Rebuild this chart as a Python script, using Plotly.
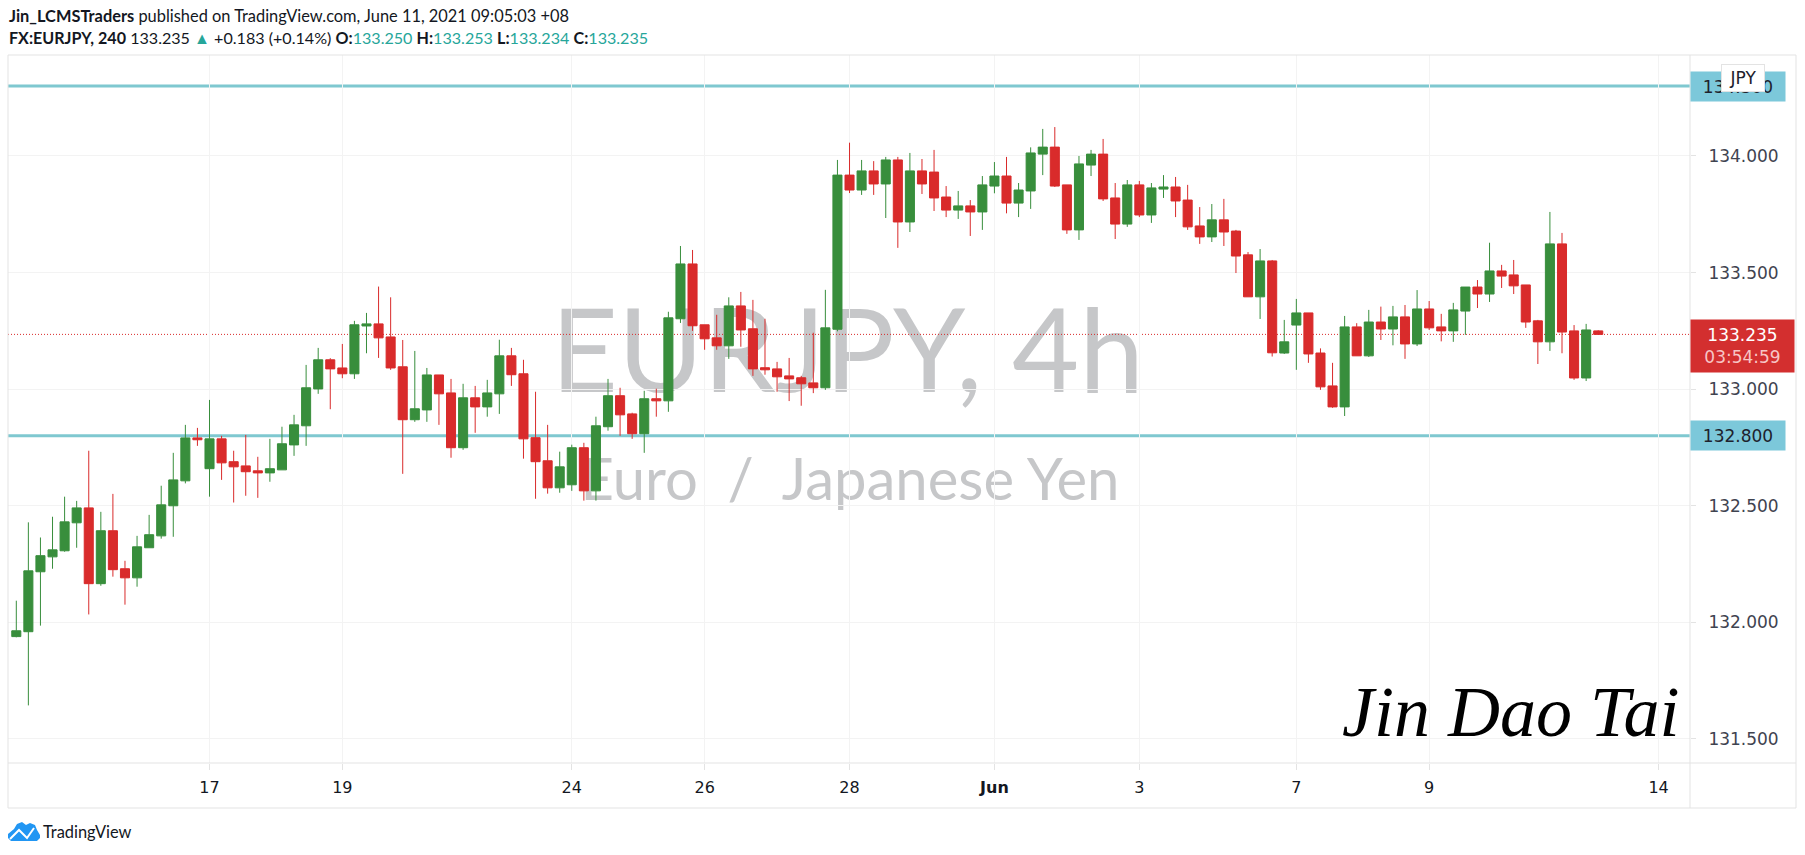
import plotly.graph_objects as go

opens = [131.939,131.960,132.217,132.281,132.307,132.427,132.491,132.166,132.393,132.230,132.191,132.320,132.371,132.500,132.607,132.791,132.659,132.787,132.689,132.671,132.650,132.641,132.654,132.761,132.843,133.001,133.126,133.091,133.066,133.271,133.280,133.224,133.096,132.869,132.911,133.061,132.984,
132.749,132.963,132.924,132.980,133.143,133.066,132.792,132.693,132.577,132.590,132.749,132.564,132.839,132.972,132.894,132.809,132.959,132.950,133.302,133.537,133.276,133.220,133.186,133.357,133.259,133.092,133.087,133.057,133.049,133.027,133.006,
133.257,133.918,133.854,133.936,133.880,133.983,133.717,133.936,133.931,133.824,133.768,133.786,133.760,133.871,133.914,133.798,133.850,134.008,134.038,133.876,133.683,133.961,134.008,133.820,133.708,133.876,133.747,133.858,133.867,133.811,133.700,133.653,133.726,133.678,133.576,133.396,133.550,
133.155,133.275,133.327,133.155,133.014,132.924,133.267,133.143,133.288,133.258,133.310,133.194,133.344,133.267,133.250,133.335,133.438,133.408,133.507,133.490,133.447,133.293,133.203,133.623,133.250,133.048,133.250]
highs = [132.093,132.429,132.364,132.453,132.539,132.521,132.736,132.474,132.551,132.264,132.371,132.461,132.586,132.727,132.847,132.834,132.954,132.800,132.736,132.804,132.710,132.787,132.839,132.890,133.104,133.177,133.133,133.194,133.293,133.327,133.440,133.394,133.211,133.164,133.091,133.061,133.044,
133.023,133.014,133.040,133.212,133.177,133.126,132.989,132.847,132.732,132.762,132.770,132.882,133.044,133.006,132.899,132.993,133.002,133.332,133.614,133.597,133.276,133.319,133.394,133.417,133.383,133.302,133.117,133.134,133.057,133.242,133.426,
133.983,134.057,133.983,133.978,133.996,133.996,134.013,133.987,134.026,133.871,133.850,133.811,133.914,133.974,133.996,133.884,134.037,134.116,134.124,133.876,134.000,134.026,134.073,133.884,133.897,133.893,133.884,133.918,133.910,133.876,133.781,133.794,133.816,133.683,133.588,133.601,133.554,
133.297,133.387,133.327,133.175,133.113,133.314,133.283,133.340,133.354,133.357,133.361,133.425,133.378,133.323,133.370,133.438,133.468,133.628,133.533,133.554,133.447,133.297,133.760,133.670,133.275,133.280,133.253]
lows = [131.936,131.644,131.986,132.230,132.303,132.320,132.034,132.157,132.196,132.076,132.153,132.320,132.359,132.367,132.596,132.757,132.539,132.611,132.514,132.543,132.534,132.603,132.654,132.714,132.757,132.980,132.914,133.047,133.044,133.154,133.134,133.083,132.637,132.860,132.860,132.847,132.706,
132.740,132.813,132.882,132.894,133.014,132.702,132.530,132.552,132.556,132.564,132.522,132.522,132.822,132.800,132.787,132.727,132.882,132.903,133.284,133.250,133.169,133.169,133.130,133.182,133.057,133.062,132.989,132.949,132.929,132.983,132.997,
133.248,133.841,133.833,133.833,133.734,133.606,133.674,133.837,133.764,133.738,133.730,133.657,133.683,133.840,133.754,133.738,133.773,133.918,133.867,133.666,133.640,133.914,133.807,133.644,133.696,133.738,133.713,133.820,133.738,133.683,133.623,133.631,133.614,133.498,133.396,133.301,133.140,
133.151,133.083,133.113,132.997,132.920,132.885,133.143,133.138,133.211,133.188,133.130,133.185,133.254,133.205,133.203,133.233,133.348,133.374,133.434,133.408,133.263,133.108,133.164,133.154,133.040,133.035,133.234]
closes = [131.964,132.221,132.286,132.311,132.431,132.491,132.166,132.393,132.226,132.191,132.324,132.376,132.504,132.611,132.791,132.783,132.787,132.684,132.667,132.646,132.641,132.659,132.766,132.847,133.006,133.126,133.087,133.066,133.276,133.280,133.220,133.091,132.869,132.916,133.061,132.980,132.749,
132.963,132.924,132.984,133.143,133.062,132.787,132.689,132.577,132.667,132.749,132.564,132.843,132.972,132.890,132.809,132.959,132.950,133.306,133.537,133.272,133.216,133.186,133.357,133.254,133.087,133.083,133.053,133.044,133.023,133.006,133.263,
133.918,133.854,133.936,133.880,133.983,133.717,133.936,133.880,133.820,133.768,133.786,133.760,133.876,133.914,133.798,133.854,134.013,134.038,133.871,133.683,133.966,134.008,133.816,133.708,133.876,133.747,133.863,133.867,133.807,133.696,133.653,133.726,133.674,133.571,133.396,133.550,133.156,
133.203,133.327,133.151,133.010,132.924,133.267,133.143,133.288,133.258,133.310,133.194,133.344,133.263,133.250,133.340,133.438,133.408,133.507,133.485,133.443,133.288,133.203,133.623,133.245,133.048,133.254,133.235]

bar_index = list(range(len(opens)))
date_ticks = [16, 27, 46, 57, 69, 81, 93, 106, 117, 136]
date_labels = ["17", "19", "24", "26", "28", "<b>Jun</b>", "3", "7", "9", "14"]
price_ticks = [131.5, 132.0, 132.5, 133.0, 133.5, 134.0]
levels = [134.3, 132.8]
level_labels = ["134.300", "132.800"]
last_price = 133.235
countdown = "03:54:59"

W, H = 1805, 855
L, R, T, B = 8, 1690, 55, 763
OUTER_R, OUTER_B = 1796, 808
GREEN, RED = "#388E3C", "#D92B2B"
TEAL = "#7FC8D0"
LABEL_BG = "#7CC8DA"
UP = "#26A69A"
TXT = "#3F4350"
FONT = "DejaVu Sans"
HEAD = "Lato"

px = lambda x: x / W
py = lambda y: 1 - y / H

fig = go.Figure(go.Candlestick(
    x=bar_index, open=opens, high=highs, low=lows, close=closes,
    increasing=dict(line=dict(color=GREEN, width=1), fillcolor=GREEN),
    decreasing=dict(line=dict(color=RED, width=1), fillcolor=RED),
    whiskerwidth=0, showlegend=False,
))

shapes = []
# watermark text lives beneath the candles
shapes.append(dict(type="rect", layer="below", xref="paper", yref="paper",
    x0=px(500), x1=px(1195), y0=py(405), y1=py(285), line=dict(width=0), fillcolor="rgba(0,0,0,0)",
    label=dict(text="EURJPY, 4h", font=dict(family=HEAD, size=116, color="#C6C7C9"), textposition="middle center")))
shapes.append(dict(type="rect", layer="below", xref="paper", yref="paper",
    x0=px(500), x1=px(1200), y0=py(516), y1=py(436), line=dict(width=0), fillcolor="rgba(0,0,0,0)",
    label=dict(text="Euro  /  Japanese Yen", font=dict(family=HEAD, size=58, color="#C6C7C9"), textposition="middle center")))
# level lines and last-price line
for lv in levels:
    shapes.append(dict(type="line", layer="below", xref="paper", yref="y", x0=px(L), x1=px(R), y0=lv, y1=lv,
                       line=dict(color=TEAL, width=3)))
shapes.append(dict(type="line", layer="below", xref="paper", yref="y", x0=px(L), x1=px(R), y0=last_price, y1=last_price,
                   line=dict(color=RED, width=1, dash="1px,2px")))
# chart frame
shapes.append(dict(type="rect", xref="paper", yref="paper", x0=px(L), x1=px(OUTER_R), y0=py(OUTER_B), y1=py(T),
                   line=dict(color="#E3E3E3", width=1)))
shapes.append(dict(type="line", xref="paper", yref="paper", x0=px(L), x1=px(OUTER_R), y0=py(B), y1=py(B),
                   line=dict(color="#E3E3E3", width=1)))
shapes.append(dict(type="line", xref="paper", yref="paper", x0=px(R), x1=px(R), y0=py(OUTER_B), y1=py(T),
                   line=dict(color="#E3E3E3", width=1)))
# TradingView logo
cloud = [(8,838),(8,834),(14,829),(17,824),(22,822),(26,825),(30,823),(35,825),(37,830),(40,835),(40,838),(37,841),(11,841)]
shapes.append(dict(type="path", xref="paper", yref="paper", fillcolor="#2196F3", line=dict(width=0),
    path="M " + " L ".join(f"{px(a):.5f} {py(b):.5f}" for a, b in cloud) + " Z"))
zig = [(10,839),(19,830),(27,838),(34,828)]
shapes.append(dict(type="path", xref="paper", yref="paper", line=dict(color="white", width=2),
    path="M " + " L ".join(f"{px(a):.5f} {py(b):.5f}" for a, b in zig)))

sp = lambda t: f'<span style="color:{UP}">{t}</span>'
ann = []
def text(x, y, t, size, color="#131722", family=HEAD, anchor="left", **kw):
    ann.append(dict(xref="paper", yref="paper", x=px(x), y=py(y), xanchor=anchor, yanchor="middle", text=t,
                    showarrow=False, font=dict(family=family, size=size, color=color), **kw))

text(7, 15, "<b>Jin_LCMSTraders</b> published on TradingView.com, June 11, 2021 09:05:03 +08", 16.4)
text(7, 38, f"<b>FX:EURJPY, 240</b> 133.235 {sp('▲')} +0.183 (+0.14%) <b>O:</b>{sp('133.250')} <b>H:</b>{sp('133.253')} <b>L:</b>{sp('133.234')} <b>C:</b>{sp('133.235')}", 16.1)
text(41, 831, "TradingView", 16.4, family=HEAD)

# signature (no script font available: slanted serif text)
text(1510, 712, "<i>Jin Dao Tai</i>", 72, color="#000000", family="Liberation Serif", anchor="center")

# price-axis labels
for lv, lab in zip(levels, level_labels):
    ann.append(dict(xref="paper", yref="y", x=px(R), y=lv, xanchor="left", yanchor="middle", text=lab, showarrow=False,
                    width=94, height=29, bgcolor=LABEL_BG, align="center", borderpad=0,
                    font=dict(family=FONT, size=17, color="#1E222D")))
ann.append(dict(xref="paper", yref="paper", x=px(R), y=py(346), xanchor="left", yanchor="middle",
                text=f"{last_price:.3f}<br><span style='color:#F7C5C5'>{countdown}</span>", showarrow=False,
                width=103, height=52, bgcolor="#D32F2F", align="center", borderpad=0,
                font=dict(family=FONT, size=17, color="#FFFFFF")))
ann.append(dict(xref="paper", yref="paper", x=px(1743), y=py(77.5), xanchor="center", yanchor="middle", text="JPY", showarrow=False,
                width=42, height=26, bgcolor="#FFFFFF", bordercolor="#E3E3E3", borderwidth=1, borderpad=0,
                font=dict(family=FONT, size=17, color="#1E222D")))

fig.update_layout(
    width=W, height=H, margin=dict(l=0, r=0, t=0, b=0, autoexpand=False),
    paper_bgcolor="white", plot_bgcolor="white", showlegend=False,
    boxgap=0.25, boxgroupgap=0, shapes=shapes, annotations=ann,
    xaxis=dict(domain=[px(L), px(R)], range=[-0.687, 138.6], rangeslider=dict(visible=False),
               tickmode="array", tickvals=date_ticks, ticktext=date_labels,
               showgrid=True, gridcolor="#F3F3F3", gridwidth=1, zeroline=False, showline=False,
               ticks="outside", ticklen=6, tickcolor="#E3E3E3",
               tickfont=dict(family=FONT, size=16, color="#131722"), ticklabelstandoff=4),
    yaxis=dict(domain=[py(B), py(T)], range=[131.397, 134.433], side="right", anchor="x",
               tickmode="array", tickvals=price_ticks, tickformat=".3f",
               showgrid=True, gridcolor="#F3F3F3", gridwidth=1, zeroline=False, showline=False,
               ticks="outside", ticklen=5, tickcolor="#E3E3E3", ticklabelstandoff=9,
               tickfont=dict(family=FONT, size=17, color=TXT)),
)

fig.write_html("out.html", config=dict(displayModeBar=False),
               post_script="document.body.style.margin='0';document.body.style.overflow='hidden';")
